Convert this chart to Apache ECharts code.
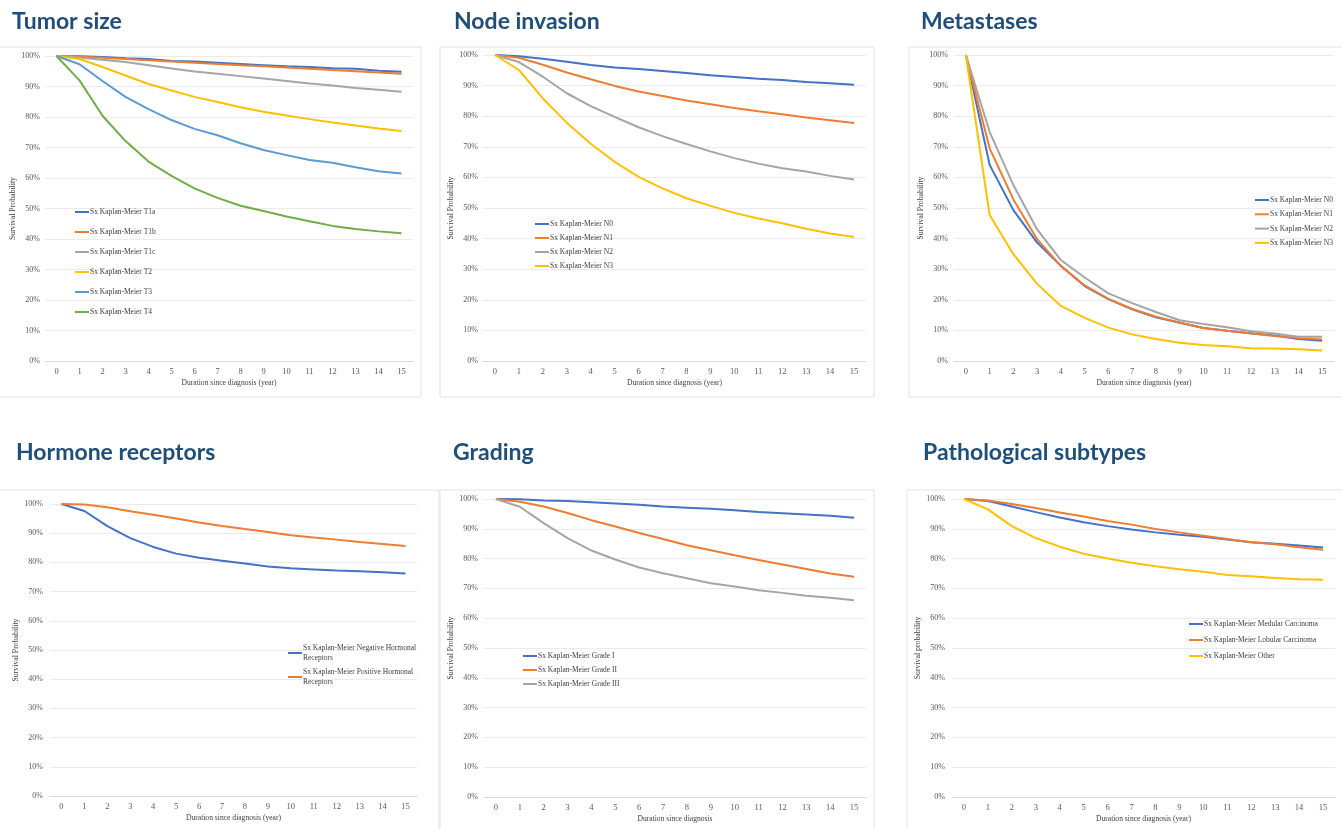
<!DOCTYPE html>
<html>
<head>
<meta charset="utf-8">
<script src="https://cdn.jsdelivr.net/npm/echarts@6/dist/echarts.min.js"></script>
<style>
  html, body { margin: 0; padding: 0; background: #fff; }
  #chart { width: 1342px; height: 829px; }
</style>
</head>
<body>
<div id="chart"></div>
<script>
// years since diagnosis
const years = ['0','1','2','3','4','5','6','7','8','9','10','11','12','13','14','15'];

// Tumor size (%)
const tumorT1a = [100, 99.9, 99.7, 99.3, 99.0, 98.4, 98.2, 97.8, 97.4, 97.0, 96.6, 96.4, 96.0, 95.8, 95.2, 94.8];
const tumorT1b = [100, 99.8, 99.4, 99.0, 98.6, 98.2, 97.8, 97.4, 97.0, 96.6, 96.2, 95.8, 95.4, 95.0, 94.6, 94.2];
const tumorT1c = [100, 99.5, 98.8, 98.0, 97.0, 95.9, 94.9, 94.2, 93.4, 92.6, 91.8, 91.0, 90.3, 89.5, 88.9, 88.3];
const tumorT2  = [100, 99.0, 96.4, 93.6, 90.8, 88.7, 86.6, 84.9, 83.2, 81.7, 80.5, 79.3, 78.2, 77.2, 76.2, 75.4];
const tumorT3  = [100, 97.3, 91.8, 86.6, 82.6, 79.0, 76.1, 74.0, 71.4, 69.2, 67.5, 65.9, 65.0, 63.5, 62.2, 61.5];
const tumorT4  = [100, 92.0, 80.4, 72.1, 65.4, 60.7, 56.6, 53.5, 50.9, 49.2, 47.4, 45.8, 44.3, 43.3, 42.5, 41.9];

// Node invasion (%)
const nodeN0 = [100, 99.6, 98.8, 97.8, 96.7, 95.9, 95.4, 94.8, 94.1, 93.4, 92.8, 92.2, 91.8, 91.2, 90.8, 90.3];
const nodeN1 = [100, 99.1, 96.8, 94.3, 92.1, 89.9, 88.1, 86.6, 85.1, 83.9, 82.7, 81.6, 80.6, 79.6, 78.7, 77.8];
const nodeN2 = [100, 97.7, 92.9, 87.5, 83.3, 79.8, 76.4, 73.5, 70.9, 68.5, 66.3, 64.5, 63.0, 61.9, 60.5, 59.3];
const nodeN3 = [100, 95.1, 85.8, 77.9, 71.0, 65.1, 60.2, 56.4, 53.2, 50.7, 48.4, 46.6, 45.0, 43.2, 41.7, 40.5];

// Metastases (%)
const metaN0 = [100, 64.1, 49.3, 38.7, 31.1, 24.5, 20.2, 16.9, 14.3, 12.5, 10.8, 9.9, 9.1, 8.3, 7.2, 6.6];
const metaN1 = [100, 69.5, 52.8, 39.8, 31.0, 24.7, 20.3, 17.0, 14.5, 12.6, 10.8, 9.9, 9.0, 8.2, 7.5, 7.0];
const metaN2 = [100, 74.9, 57.5, 43.0, 33.0, 27.3, 22.1, 18.9, 16.0, 13.3, 12.1, 11.0, 9.7, 9.0, 7.9, 7.9];
const metaN3 = [100, 47.7, 34.9, 25.2, 18.0, 14.1, 10.9, 8.7, 7.2, 6.0, 5.2, 4.8, 4.2, 4.1, 3.8, 3.4];

// Hormone receptors (%)
const hormoneNeg = [100, 97.6, 92.4, 88.3, 85.3, 83.0, 81.6, 80.6, 79.6, 78.6, 78.0, 77.6, 77.2, 77.0, 76.6, 76.2];
const hormonePos = [100, 99.8, 98.9, 97.5, 96.3, 95.0, 93.7, 92.5, 91.4, 90.4, 89.3, 88.5, 87.8, 87.0, 86.3, 85.6];

// Grading (%)
const gradeI   = [100, 99.9, 99.5, 99.3, 98.9, 98.5, 98.1, 97.5, 97.1, 96.7, 96.2, 95.6, 95.2, 94.8, 94.4, 93.7];
const gradeII  = [100, 99.1, 97.5, 95.3, 92.9, 90.8, 88.6, 86.6, 84.5, 82.8, 81.1, 79.5, 78.0, 76.5, 75.0, 73.9];
const gradeIII = [100, 97.4, 91.9, 86.9, 82.7, 79.7, 77.0, 75.1, 73.4, 71.7, 70.6, 69.4, 68.5, 67.5, 66.9, 66.0];

// Pathological subtypes (%)
const subMedullar = [100, 99.3, 97.5, 95.6, 93.8, 92.2, 90.9, 89.8, 88.8, 88.0, 87.3, 86.4, 85.5, 85.0, 84.4, 83.7];
const subLobular  = [100, 99.5, 98.3, 97.0, 95.5, 94.1, 92.6, 91.4, 89.9, 88.8, 87.7, 86.6, 85.5, 84.8, 83.8, 83.0];
const subOther    = [100, 96.5, 90.9, 86.9, 84.0, 81.6, 80.0, 78.6, 77.4, 76.4, 75.6, 74.5, 74.1, 73.5, 73.1, 72.9];

const BLUE = '#4472C4', ORANGE = '#ED7D31', GRAY = '#A5A5A5', YELLOW = '#FFC000', LBLUE = '#5B9BD5', GREEN = '#70AD47';
const SERIF = '"Liberation Serif", "DejaVu Serif", serif';

const panels = [
  {
    title: 'Tumor size', titlePos: [12, 10],
    grid: { left: 45, top: 56, width: 368, height: 305 },
    yName: 'Survival Probability', yGap: 26, yMargin: 5, xName: 'Duration since diagnosis (year)',
    legend: { left: 75, top: 207, itemGap: 10 },
    series: [
      ['Sx Kaplan-Meier T1a', tumorT1a, BLUE],
      ['Sx Kaplan-Meier T1b', tumorT1b, ORANGE],
      ['Sx Kaplan-Meier T1c', tumorT1c, GRAY],
      ['Sx Kaplan-Meier T2', tumorT2, YELLOW],
      ['Sx Kaplan-Meier T3', tumorT3, LBLUE],
      ['Sx Kaplan-Meier T4', tumorT4, GREEN]
    ]
  },
  {
    title: 'Node invasion', titlePos: [454, 10],
    grid: { left: 483, top: 55, width: 383, height: 306 },
    yName: 'Survival Probability', yGap: 26, yMargin: 5, xName: 'Duration since diagnosis (year)',
    legend: { left: 535, top: 219, itemGap: 4 },
    series: [
      ['Sx Kaplan-Meier N0', nodeN0, BLUE],
      ['Sx Kaplan-Meier N1', nodeN1, ORANGE],
      ['Sx Kaplan-Meier N2', nodeN2, GRAY],
      ['Sx Kaplan-Meier N3', nodeN3, YELLOW]
    ]
  },
  {
    title: 'Metastases', titlePos: [921, 10],
    grid: { left: 954, top: 55, width: 380, height: 306 },
    yName: 'Survival Probability', yGap: 27, yMargin: 6, xName: 'Duration since diagnosis (year)',
    legend: { left: 1255, top: 195, itemGap: 4.3 },
    series: [
      ['Sx Kaplan-Meier N0', metaN0, BLUE],
      ['Sx Kaplan-Meier N1', metaN1, ORANGE],
      ['Sx Kaplan-Meier N2', metaN2, GRAY],
      ['Sx Kaplan-Meier N3', metaN3, YELLOW]
    ]
  },
  {
    title: 'Hormone receptors', titlePos: [16, 441],
    grid: { left: 50, top: 504, width: 367, height: 292 },
    yName: 'Survival Probability', yGap: 25, yMargin: 7, xName: 'Duration since diagnosis (year)',
    legend: { left: 288, top: 638, itemGap: -6, wrap: true },
    series: [
      ['Sx Kaplan-Meier Negative Hormonal Receptors', hormoneNeg, BLUE],
      ['Sx Kaplan-Meier Positive Hormonal Receptors', hormonePos, ORANGE]
    ]
  },
  {
    title: 'Grading', titlePos: [453, 441],
    grid: { left: 484, top: 499, width: 382, height: 298 },
    yName: 'Survival Probability', yGap: 27, yMargin: 6, xName: 'Duration since diagnosis',
    legend: { left: 523, top: 651, itemGap: 4 },
    series: [
      ['Sx Kaplan-Meier Grade I', gradeI, BLUE],
      ['Sx Kaplan-Meier Grade II', gradeII, ORANGE],
      ['Sx Kaplan-Meier Grade III', gradeIII, GRAY]
    ]
  },
  {
    title: 'Pathological subtypes', titlePos: [923, 441],
    grid: { left: 952, top: 499, width: 383, height: 298 },
    yName: 'Survival probability', yGap: 26, yMargin: 7, xName: 'Duration since diagnosis (year)',
    legend: { left: 1189, top: 619, itemGap: 6 },
    series: [
      ['Sx Kaplan-Meier Medular Carcinoma', subMedullar, BLUE],
      ['Sx Kaplan-Meier Lobular Carcinoma', subLobular, ORANGE],
      ['Sx Kaplan-Meier Other', subOther, YELLOW]
    ]
  }
];

// light frames behind each chart, like the pasted Excel boxes
const frames = [
  [-2, 47, 423, 350], [440, 47, 434, 350], [909, 47, 440, 350],
  [-2, 490, 441, 345], [440, 490, 434, 345], [907, 490, 440, 345]
];

const option = {
  backgroundColor: '#fff',
  animation: false,
  title: [], legend: [], grid: [], xAxis: [], yAxis: [], series: [],
  graphic: frames.map(f => ({
    type: 'rect', silent: true, z: -1,
    shape: { x: f[0], y: f[1], width: f[2], height: f[3] },
    style: { fill: 'none', stroke: '#E3E3E3', lineWidth: 1 }
  }))
};

panels.forEach((p, i) => {
  option.title.push({
    text: p.title, left: p.titlePos[0], top: p.titlePos[1], padding: 0,
    textStyle: { fontFamily: 'Lato', fontWeight: 'bold', fontSize: 23, color: '#1F4E79' }
  });
  option.grid.push(Object.assign({ containLabel: false }, p.grid));
  option.xAxis.push({
    type: 'category', gridIndex: i, data: years, boundaryGap: true,
    name: p.xName, nameLocation: 'middle', nameGap: 18,
    nameTextStyle: { fontFamily: SERIF, fontSize: 7.6, color: '#404040' },
    axisLine: { lineStyle: { color: '#D9D9D9' } },
    axisTick: { show: false },
    axisLabel: { fontFamily: SERIF, fontSize: 8.5, color: '#595959', margin: 6, interval: 0 },
    splitLine: { show: false }
  });
  option.yAxis.push({
    type: 'value', gridIndex: i, min: 0, max: 100, interval: 10,
    name: p.yName, nameLocation: 'middle', nameRotate: 90, nameGap: p.yGap,
    nameTextStyle: { fontFamily: SERIF, fontSize: 7.8, color: '#404040' },
    axisLine: { show: false }, axisTick: { show: false },
    axisLabel: { fontFamily: SERIF, fontSize: 8, color: '#595959', margin: p.yMargin, formatter: '{value}%' },
    splitLine: { lineStyle: { color: '#EBEBEB', width: 1 } }
  });
  option.legend.push({
    orient: 'vertical', left: p.legend.left, top: p.legend.top, padding: 0,
    itemGap: p.legend.itemGap, itemWidth: 14, itemHeight: 2, icon: 'rect',
    data: p.series.map(s => s[0]),
    formatter: p.legend.wrap ? (n => n.replace(' Receptors', '\nReceptors')) : '{name}',
    textStyle: {
      fontFamily: SERIF, fontSize: 7.5, color: '#404040', lineHeight: 10,
      padding: p.legend.wrap ? [10, 0, 0, -4] : [0, 0, 0, -4]
    }
  });
  p.series.forEach(s => {
    option.series.push({
      name: s[0], type: 'line', xAxisIndex: i, yAxisIndex: i,
      data: s[1], color: s[2], symbol: 'none', smooth: false,
      lineStyle: { width: 2, color: s[2] }
    });
  });
});

const chart = echarts.init(document.getElementById('chart'), null, { renderer: 'canvas' });
chart.setOption(option);
</script>
</body>
</html>
